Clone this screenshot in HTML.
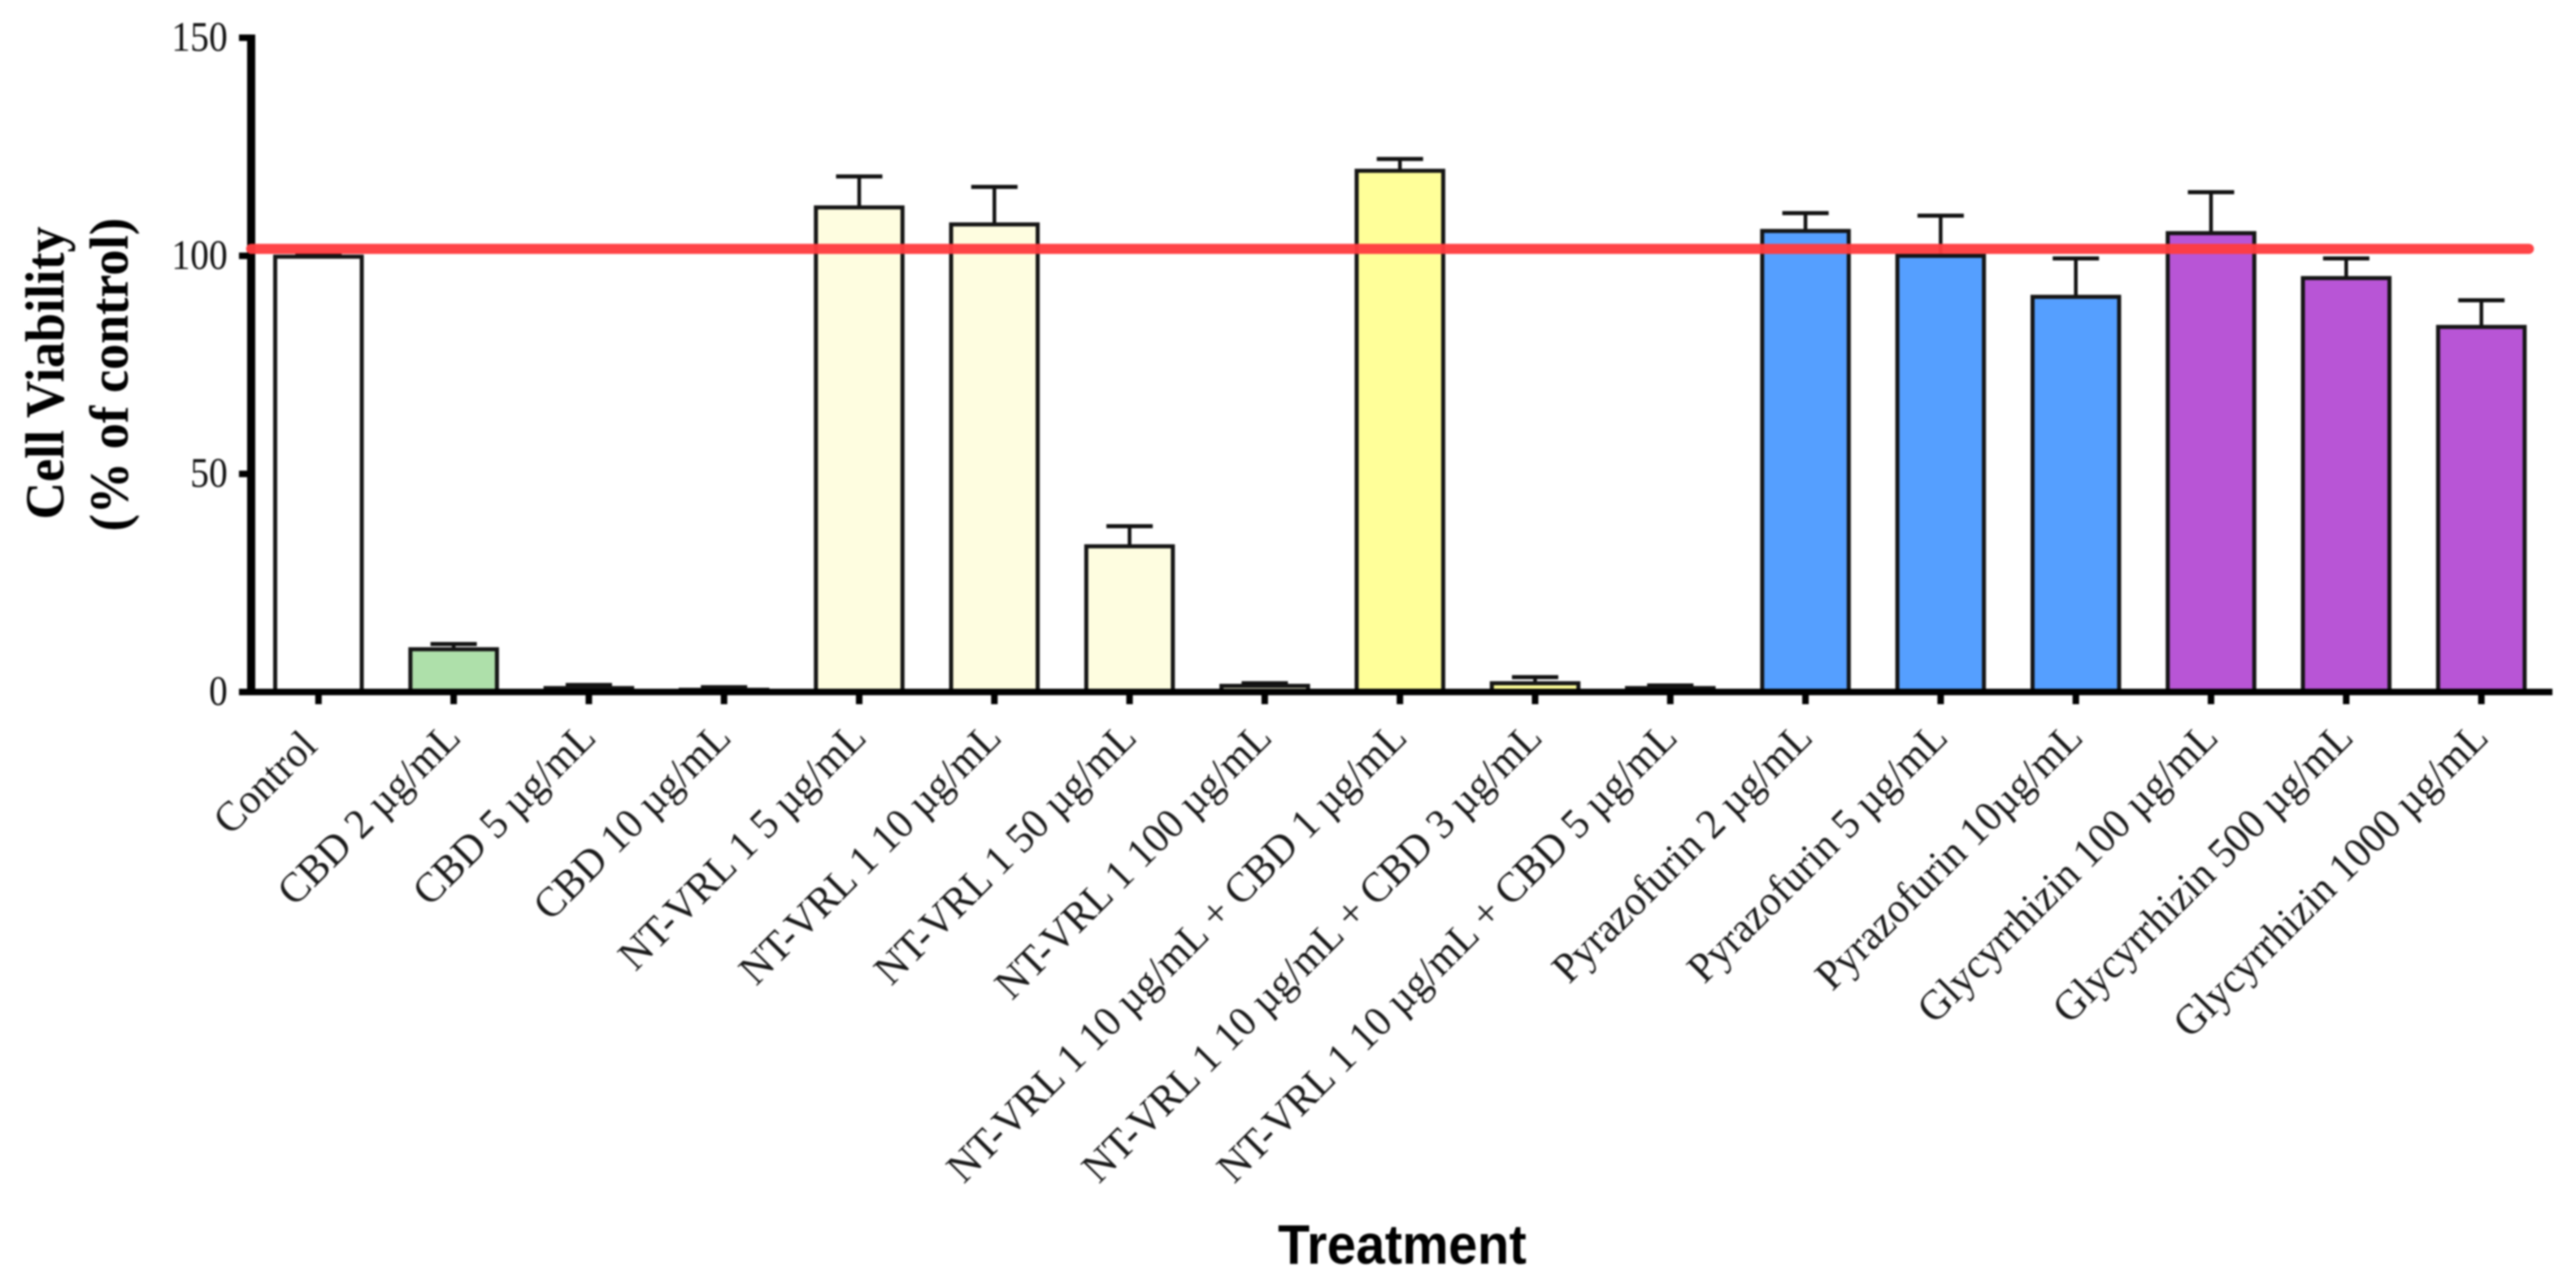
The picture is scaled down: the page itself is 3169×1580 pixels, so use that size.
<!DOCTYPE html>
<html>
<head>
<meta charset="utf-8">
<title>Cell Viability Chart</title>
<style>
html,body{margin:0;padding:0;background:#fff;width:3169px;height:1580px;overflow:hidden}
svg{display:block;filter:blur(1px)}
.tick-label{font-family:"Liberation Serif",serif;font-size:52px;fill:#111}
.cat-label{font-family:"Liberation Serif",serif;font-size:52px;fill:#1a1a1a}
.y-title{font-family:"Liberation Serif",serif;font-size:68px;font-weight:bold;fill:#000}
.x-title{font-family:"Liberation Sans",sans-serif;font-size:64px;font-weight:bold;fill:#000}
</style>
</head>
<body>
<svg id="chart" xmlns="http://www.w3.org/2000/svg" width="3169" height="1580" viewBox="0 0 3169 1580">
<rect x="0" y="0" width="3169" height="1580" fill="#ffffff"/>
<g id="bars"></g>
<g id="axes"></g>
<g id="labels"></g>
<g id="reference"></g>
<text class="y-title" transform="translate(78 459) rotate(-90) scale(0.94 1)" text-anchor="middle">Cell Viability</text>
<text class="y-title" transform="translate(157 461) rotate(-90) scale(0.94 1)" text-anchor="middle">(% of control)</text>
<text class="x-title" transform="translate(1725 1555) scale(1 1.08)" text-anchor="middle">Treatment</text>
</svg>
<script>
const categories = ["Control","CBD 2 µg/mL","CBD 5 µg/mL","CBD 10 µg/mL","NT-VRL 1 5 µg/mL","NT-VRL 1 10 µg/mL","NT-VRL 1 50 µg/mL","NT-VRL 1 100 µg/mL","NT-VRL 1 10 µg/mL + CBD 1 µg/mL","NT-VRL 1 10 µg/mL + CBD 3 µg/mL","NT-VRL 1 10 µg/mL + CBD 5 µg/mL","Pyrazofurin 2 µg/mL","Pyrazofurin 5 µg/mL","Pyrazofurin 10µg/mL","Glycyrrhizin 100 µg/mL","Glycyrrhizin 500 µg/mL","Glycyrrhizin 1000 µg/mL"];
const means = [99.8,9.8,0.9,0.5,111.1,107.2,33.4,1.4,119.5,2,0.9,105.7,100,90.6,105.2,94.9,83.7];
const errorTops = [100.3,11,1.6,1.1,118.2,115.8,38,2,122.2,3.4,1.5,109.8,109.2,99.4,114.6,99.4,89.8];
const fills = ["#ffffff","#aee0aa","#aee0aa","#aee0aa","#fefde0","#fefde0","#fefde0","#fefde0","#ffff99","#ffff99","#ffff99","#559fff","#559fff","#559fff","#b855d6","#b855d6","#b855d6"];
const yTicks = [0,50,100,150];
const referenceValue = 101.6;

const NS = "http://www.w3.org/2000/svg";
const Y0 = 851.5, PX_PER_UNIT = 5.367, X0 = 391.8, STEP = 166.3;
const BAR_W = 106.5, CAP_W = 57;
const AXIS_X = 309, AXIS_END = 3140;

function xScale(i){ return X0 + STEP * i; }
function yScale(v){ return Y0 - PX_PER_UNIT * v; }

function make(tag, parent, attrs){
  const el = document.createElementNS(NS, tag);
  for (const k in attrs) el.setAttribute(k, attrs[k]);
  parent.appendChild(el);
  return el;
}

const barsG = document.getElementById('bars');
const axesG = document.getElementById('axes');
const labelsG = document.getElementById('labels');
const refG = document.getElementById('reference');

categories.forEach((name, i) => {
  const cx = xScale(i), top = yScale(means[i]), errY = yScale(errorTops[i]);
  const stem = make('line', barsG, {x1:cx, x2:cx, y1:top, y2:errY, stroke:'#111', 'stroke-width':4.5});
  
  
  const cap = make('line', barsG, {x1:cx-CAP_W/2, x2:cx+CAP_W/2, y1:errY, y2:errY, stroke:'#111', 'stroke-width':5});
  
  
  const bar = make('rect', barsG, {x:cx-BAR_W/2, y:top, width:BAR_W, height:Y0-top, fill:fills[i], stroke:'#151515', 'stroke-width':5});
  
  
  const tick = make('line', axesG, {x1:cx, x2:cx, y1:Y0, y2:866.5, stroke:'#000', 'stroke-width':8});
  
  
  const shift = i === 0 ? -15 : 0;
  const lab = make('text', labelsG, {class:'cat-label', 'text-anchor':'end', x:shift, y:0, transform:'translate('+(cx+11)+' 910) rotate(-45) scale(0.97 1)'});
  
  
  lab.textContent = name;
});

yTicks.forEach(v => {
  const y = yScale(v);
  const tick = make('line', axesG, {x1:294, x2:AXIS_X, y1:y, y2:y, stroke:'#000', 'stroke-width':8});
  
  
  const lab = make('text', axesG, {class:'tick-label', 'text-anchor':'end', transform:'translate(280 '+(y+16)+') scale(0.885 1)'});
  
  
  lab.textContent = String(v);
});

const yAxis = make('line', axesG, {x1:AXIS_X, x2:AXIS_X, y1:yScale(150)-4, y2:Y0+4, stroke:'#000', 'stroke-width':10});


const xAxis = make('line', axesG, {x1:294, x2:AXIS_END, y1:Y0, y2:Y0, stroke:'#000', 'stroke-width':8});



const refLine = make('line', refG, {x1:309, x2:3111, y1:yScale(referenceValue), y2:yScale(referenceValue), stroke:'#ff3c3f', 'stroke-width':12.5, 'stroke-linecap':'round', 'stroke-opacity':0.96});


</script>
</body>
</html>
